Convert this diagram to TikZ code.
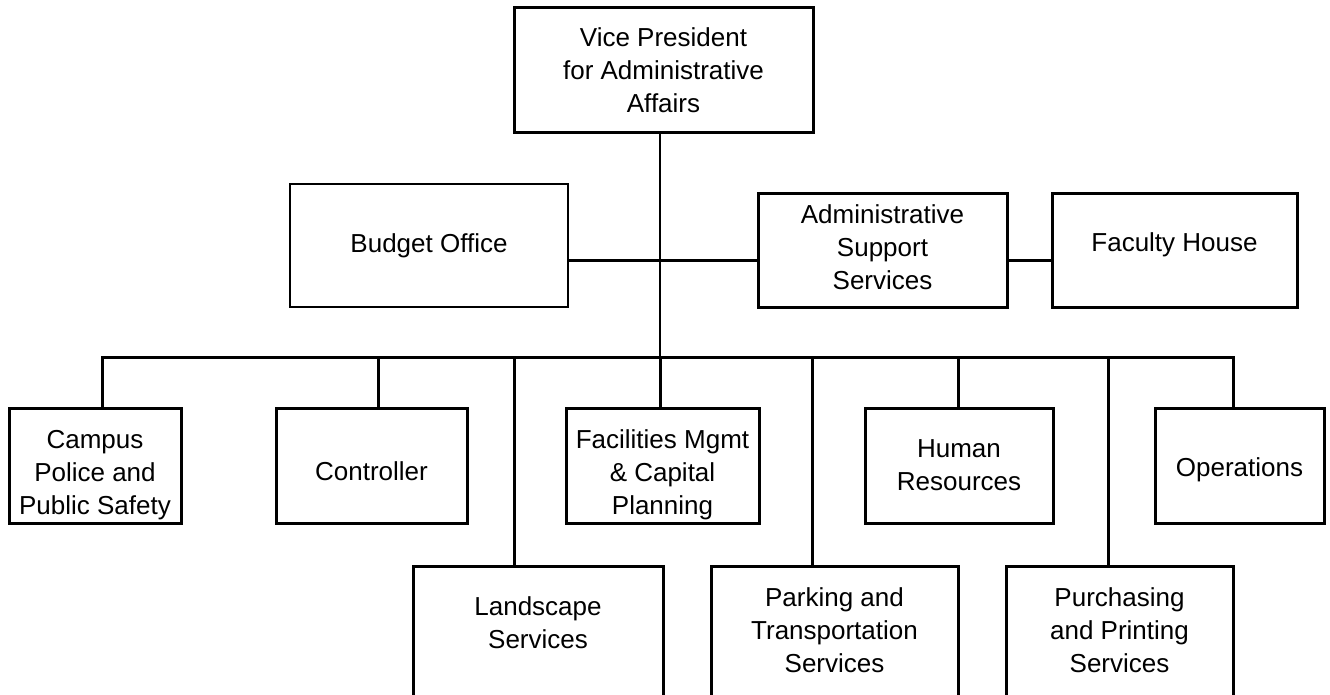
\documentclass[tikz,border=0pt]{standalone}
\usepackage{fontspec}
\setmainfont{Liberation Sans}
\newcommand{\pushdown}[1]{\rule{0pt}{#1}}
\newcommand{\pushup}[1]{\rule[-#1]{0pt}{#1}}

\begin{document}
\begin{tikzpicture}[
    x=1pt, y=-1pt,
    box/.style={draw=black, line width=3pt, align=center, inner sep=0pt,
        font=\fontsize{26}{33}\selectfont},
    lowbox/.style={box, anchor=north, text depth=140pt},
    link/.style={line width=3pt},
    ]
    \useasboundingbox (0,0) rectangle (1330,695);

    %Nodes
    \node[box, minimum width=299pt, minimum height=125pt] at (663.5,70.5) (vp) {Vice President\\for Administrative\\Affairs};
    \node[box, line width=2pt, minimum width=278pt, minimum height=123pt] at (429,245.5) (budget) {Budget Office};
    \node[box, minimum width=249pt, minimum height=113pt] at (882.5,250.5) (admin) {Administrative\\Support\\Services\pushup{7pt}};
    \node[box, minimum width=245pt, minimum height=113pt] at (1174.5,250.5) (faculty) {Faculty House\pushup{16pt}};

    \node[box, minimum width=172pt, minimum height=115pt] at (95,465.5) (campus) {\pushdown{38pt}Campus\\Police and\\Public Safety};
    \node[box, minimum width=191pt, minimum height=115pt] at (371.5,465.5) (control) {\pushdown{31pt}Controller};
    \node[box, minimum width=193pt, minimum height=115pt] at (662.5,465.5) (facil) {\pushdown{38pt}Facilities Mgmt\\\& Capital\\Planning};
    \node[box, minimum width=188pt, minimum height=115pt] at (959,465.5) (human) {Human\\Resources};
    \node[box, minimum width=169pt, minimum height=115pt] at (1239.5,465.5) (oper) {\pushdown{28pt}Operations};

    \node[lowbox, inner ysep=30pt, minimum width=250pt] at (538,565) (land) {Landscape\\Services};
    \node[lowbox, inner ysep=21pt, minimum width=247pt] at (834.5,565) (park) {Parking and\\Transportation\\Services};
    \node[lowbox, inner ysep=21pt, minimum width=227pt] at (1119.5,565) (purch) {Purchasing\\and Printing\\Services};

    %Bus points
    \coordinate (mid) at (660,260);
    \coordinate (b1) at (102,357);
    \coordinate (b2) at (378,357);
    \coordinate (b3) at (514,357);
    \coordinate (b4) at (660,357);
    \coordinate (b5) at (812,357);
    \coordinate (b6) at (958,357);
    \coordinate (b7) at (1108,357);
    \coordinate (b8) at (1233,357);

    %Lines
    \draw[link, line width=2.3pt] (vp.south -| b4) -- (b4);
    \draw[link] (mid -| budget.east) -- (mid -| admin.west);
    \draw[link] (mid -| admin.east) -- (mid -| faculty.west);
    \draw[link] (b1 |- campus.north) -- (b1) -- (b8) -- (b8 |- oper.north);
    \draw[link] (b2) -- (b2 |- control.north);
    \draw[link] (b3) -- (b3 |- land.north);
    \draw[link] (b4) -- (b4 |- facil.north);
    \draw[link] (b5) -- (b5 |- park.north);
    \draw[link] (b6) -- (b6 |- human.north);
    \draw[link] (b7) -- (b7 |- purch.north);
\end{tikzpicture}
\end{document}
